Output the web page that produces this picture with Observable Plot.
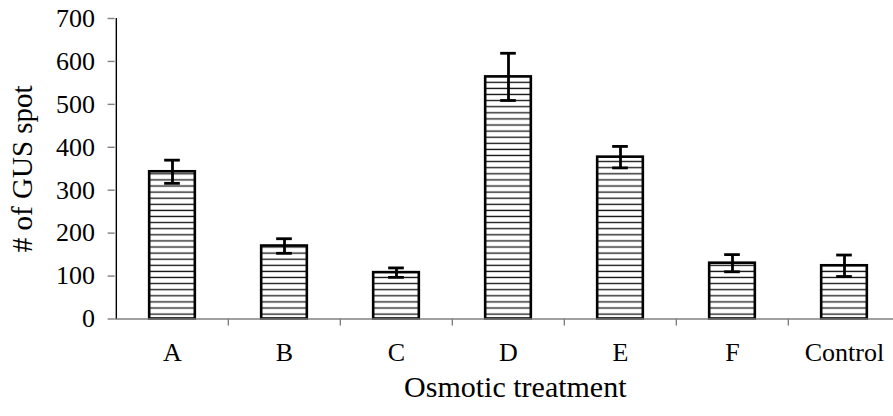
<!DOCTYPE html>
<html>
<head>
<meta charset="utf-8">
<script src="https://cdn.jsdelivr.net/npm/d3@7"></script>
<script src="https://cdn.jsdelivr.net/npm/@observablehq/plot@0.6"></script>
<style>
  html, body { margin: 0; padding: 0; background: white; }
  #chart svg { display: block; }
</style>
</head>
<body>
<div id="chart"></div>
<script>
const categories = ["A", "B", "C", "D", "E", "F", "Control"];
const means = [343, 170, 108, 564, 377, 130, 124];
const errors = [27, 17, 11, 55, 25, 20, 25];
const yTicks = [0, 100, 200, 300, 400, 500, 600, 700];
const xTitle = "Osmotic treatment";
const yTitle = "# of GUS spot";

const data = categories.map((c, i) => ({cat: c, mean: means[i], lo: means[i] - errors[i], hi: means[i] + errors[i]}));

const W = 893, H = 416;
const mL = 114.6, mR = -8, mT = 18, mB = 97.5;
const step = (W - mR - mL) / categories.length;
const barInset = (step - 46) / 2;
const capInset = (step - 16) / 2;
const grey = "#808080";

const plot = Plot.plot({
  width: W,
  height: H,
  marginLeft: mL,
  marginRight: mR,
  marginTop: mT,
  marginBottom: mB,
  style: {fontFamily: "'Liberation Serif', 'Times New Roman', serif", background: "white", color: "black"},
  x: {type: "band", domain: categories, padding: 0, label: null},
  y: {domain: [0, 700], label: null},
  marks: [
    Plot.barY(data, {x: "cat", y: "mean", fill: "url(#hatch)", stroke: "black", strokeWidth: 2.6, insetLeft: barInset, insetRight: barInset}),
    Plot.ruleY([0], {stroke: grey, strokeWidth: 1.6}),
    Plot.ruleX(categories.slice(1), {x: d => d, y1: 0, y2: 0, dx: -step / 2, insetBottom: -7, stroke: grey, strokeWidth: 1.4}),
    Plot.ruleX([categories[0]], {x: d => d, y1: 0, y2: 700, dx: -step / 2, stroke: "black", strokeWidth: 1.4}),
    Plot.axisY(yTicks, {tickSize: 7, tickPadding: 13, stroke: grey, fill: "black", fontSize: 26, label: null, strokeWidth: 1.4}),
    Plot.axisX({tickSize: 0, tickPadding: 24, fontSize: 26, label: null, fill: "black"}),
    Plot.ruleX(data, {x: "cat", y1: "lo", y2: "hi", stroke: "black", strokeWidth: 2.8}),
    Plot.tickY(data, {x: "cat", y: "lo", stroke: "black", strokeWidth: 2.8, insetLeft: capInset, insetRight: capInset}),
    Plot.tickY(data, {x: "cat", y: "hi", stroke: "black", strokeWidth: 2.8, insetLeft: capInset, insetRight: capInset}),
    Plot.text([xTitle], {frameAnchor: "bottom", dy: 68, dx: 7, fontSize: 30, fill: "black", lineAnchor: "middle"}),
    Plot.text([yTitle], {frameAnchor: "left", dx: -92, rotate: -90, textAnchor: "middle", fontSize: 29, fill: "black"})
  ]
});

// hatch pattern definition for the bars
const svg = d3.select(plot);
const defs = svg.insert("defs", ":first-child");
const pat = defs.append("pattern")
  .attr("id", "hatch")
  .attr("patternUnits", "userSpaceOnUse")
  .attr("width", 10)
  .attr("height", 6.1);
pat.append("rect").attr("width", 10).attr("height", 6.1).attr("fill", "white");
pat.append("line").attr("x1", 0).attr("x2", 10).attr("y1", 3).attr("y2", 3)
  .attr("stroke", "#111").attr("stroke-width", 1.3);

document.getElementById("chart").appendChild(plot);
</script>
</body>
</html>
